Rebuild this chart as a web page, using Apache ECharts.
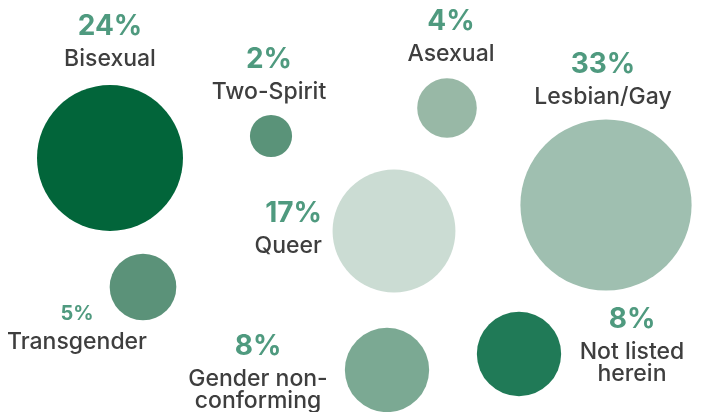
<!DOCTYPE html>
<html>
<head>
<meta charset="utf-8">
<script src="https://cdn.jsdelivr.net/npm/echarts@6/dist/echarts.min.js"></script>
<style>
  html, body { margin: 0; padding: 0; background: #fff; }
  #chart { width: 714px; height: 412px; }
</style>
</head>
<body>
<div id="chart"></div>
<script>
// data
const categories = ['Bisexual', 'Two-Spirit', 'Asexual', 'Lesbian/Gay', 'Queer', 'Transgender', 'Gender non-\nconforming', 'Not listed\nherein']
const values = [24, 2, 4, 33, 17, 5, 8, 8]

// layout on the 714x412 canvas (bubble centres, label anchors)
const bubbleX = [110, 271, 447, 606, 394, 143, 387, 519]
const bubbleY = [158, 136, 108, 205, 231, 287, 370, 354]
const labelX = [110, 269, 451, 603, 322, 77, 258, 632]
const labelY = [27, 60, 22, 65, 214, 314, 347, 320]
const labelAlign = ['center', 'center', 'center', 'center', 'right', 'center', 'center', 'center']
const bubbleColors = ['#02653a', '#5a9379', '#98b8a6', '#9fbfb0', '#cbdcd3', '#5b9279', '#7ba993', '#207a57']

const pctColor = '#4f9a7f'
const nameColor = '#3e3e3e'

const chart = echarts.init(document.getElementById('chart'))

const seriesData = categories.map((name, i) => {
  const small = values[i] === 5
  const pctLH = small ? 34 : 43
  return {
    name: name,
    value: [bubbleX[i], bubbleY[i], values[i]],
    itemStyle: { color: bubbleColors[i], opacity: 1 },
    label: {
      show: true,
      position: 'inside',
      align: labelAlign[i],
      verticalAlign: 'top',
      offset: [labelX[i] - bubbleX[i], labelY[i] - pctLH / 2 - bubbleY[i]],
      formatter: () => '{' + (small ? 'ps' : 'p') + '|' + values[i] + '%}\n' +
        name.split('\n').map(s => '{n|' + s + '}').join('\n')
    }
  }
})

chart.setOption({
  animation: false,
  backgroundColor: '#fff',
  grid: { left: 0, right: 0, top: 0, bottom: 0 },
  xAxis: { type: 'value', min: 0, max: 714, show: false },
  yAxis: { type: 'value', min: 0, max: 412, inverse: true, show: false },
  series: [
    {
      type: 'scatter',
      symbol: 'circle',
      symbolSize: v => 29.8 * Math.sqrt(v[2]),
      silent: true,
      data: seriesData,
      label: {
        fontFamily: 'Inter',
        opacity: 1,
        rich: {
          p: { fontFamily: 'Inter', fontSize: 28, fontWeight: 'bold', color: pctColor, lineHeight: 43 },
          ps: { fontFamily: 'Inter', fontSize: 20, fontWeight: 'bold', color: pctColor, lineHeight: 34 },
          n: { fontFamily: 'Inter', fontSize: 23, fontWeight: 500, color: nameColor, lineHeight: 22 }
        }
      }
    }
  ]
})
</script>
</body>
</html>
